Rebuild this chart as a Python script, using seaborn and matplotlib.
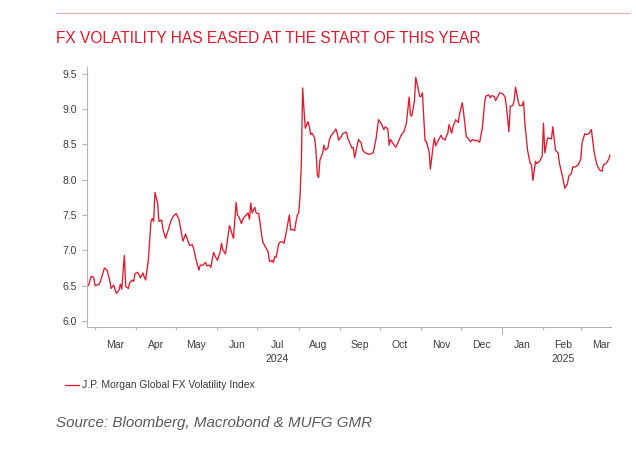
import numpy as np
import pandas as pd
import matplotlib
matplotlib.use('Agg')
import matplotlib.pyplot as plt
from matplotlib.lines import Line2D
from matplotlib.ticker import FormatStrFormatter
import seaborn as sns

# J.P. Morgan Global FX Volatility Index
dates = [
    '2024-02-25', '2024-02-27', '2024-02-29', '2024-03-01', '2024-03-04', '2024-03-05', '2024-03-08',
    '2024-03-10', '2024-03-12', '2024-03-13', '2024-03-15', '2024-03-17', '2024-03-19', '2024-03-20',
    '2024-03-21', '2024-03-23', '2024-03-24', '2024-03-26', '2024-03-27', '2024-03-29', '2024-03-30',
    '2024-03-31', '2024-04-02', '2024-04-03', '2024-04-04', '2024-04-06', '2024-04-07', '2024-04-08',
    '2024-04-10', '2024-04-12', '2024-04-13', '2024-04-14', '2024-04-15', '2024-04-17', '2024-04-18',
    '2024-04-20', '2024-04-21', '2024-04-23', '2024-04-25', '2024-04-27', '2024-04-29', '2024-05-01',
    '2024-05-03', '2024-05-04', '2024-05-06', '2024-05-08', '2024-05-11', '2024-05-13', '2024-05-14',
    '2024-05-16', '2024-05-18', '2024-05-19', '2024-05-21', '2024-05-23', '2024-05-24', '2024-05-26',
    '2024-05-27', '2024-05-29', '2024-05-31', '2024-06-01', '2024-06-03', '2024-06-04', '2024-06-05',
    '2024-06-07', '2024-06-09', '2024-06-10', '2024-06-11', '2024-06-13', '2024-06-15', '2024-06-16',
    '2024-06-17', '2024-06-19', '2024-06-20', '2024-06-22', '2024-06-24', '2024-06-25', '2024-06-26',
    '2024-06-27', '2024-06-29', '2024-06-30', '2024-07-02', '2024-07-04', '2024-07-05', '2024-07-07',
    '2024-07-09', '2024-07-10', '2024-07-11', '2024-07-12', '2024-07-13', '2024-07-14', '2024-07-15',
    '2024-07-17', '2024-07-18', '2024-07-20', '2024-07-21', '2024-07-23', '2024-07-25', '2024-07-26',
    '2024-07-27', '2024-07-29', '2024-07-30', '2024-07-31', '2024-08-01', '2024-08-02', '2024-08-03',
    '2024-08-04', '2024-08-05', '2024-08-06', '2024-08-08', '2024-08-09', '2024-08-10', '2024-08-11',
    '2024-08-13', '2024-08-14', '2024-08-15', '2024-08-16', '2024-08-17', '2024-08-19', '2024-08-20',
    '2024-08-21', '2024-08-23', '2024-08-24', '2024-08-25', '2024-08-26', '2024-08-28', '2024-08-29',
    '2024-08-30', '2024-08-31', '2024-09-02', '2024-09-03', '2024-09-05', '2024-09-06', '2024-09-07',
    '2024-09-08', '2024-09-10', '2024-09-11', '2024-09-12', '2024-09-15', '2024-09-17', '2024-09-18',
    '2024-09-20', '2024-09-23', '2024-09-26', '2024-09-28', '2024-09-30', '2024-10-02', '2024-10-04',
    '2024-10-05', '2024-10-07', '2024-10-08', '2024-10-09', '2024-10-11', '2024-10-13', '2024-10-15',
    '2024-10-17', '2024-10-19', '2024-10-21', '2024-10-23', '2024-10-24', '2024-10-25', '2024-10-27',
    '2024-10-28', '2024-10-30', '2024-10-31', '2024-11-01', '2024-11-02', '2024-11-04', '2024-11-05',
    '2024-11-07', '2024-11-08', '2024-11-10', '2024-11-11', '2024-11-12', '2024-11-14', '2024-11-16',
    '2024-11-17', '2024-11-19', '2024-11-20', '2024-11-21', '2024-11-22', '2024-11-24', '2024-11-25',
    '2024-11-27', '2024-11-29', '2024-11-30', '2024-12-02', '2024-12-03', '2024-12-05', '2024-12-07',
    '2024-12-08', '2024-12-10', '2024-12-12', '2024-12-13', '2024-12-15', '2024-12-17', '2024-12-19',
    '2024-12-20', '2024-12-22', '2024-12-23', '2024-12-24', '2024-12-26', '2024-12-27', '2024-12-29',
    '2024-12-30', '2025-01-01', '2025-01-03', '2025-01-04', '2025-01-06', '2025-01-07', '2025-01-09',
    '2025-01-10', '2025-01-11', '2025-01-13', '2025-01-14', '2025-01-16', '2025-01-17', '2025-01-18',
    '2025-01-20', '2025-01-22', '2025-01-23', '2025-01-24', '2025-01-26', '2025-01-27', '2025-01-29',
    '2025-01-31', '2025-02-01', '2025-02-02', '2025-02-04', '2025-02-07', '2025-02-08', '2025-02-10',
    '2025-02-12', '2025-02-13', '2025-02-15', '2025-02-17', '2025-02-19', '2025-02-20', '2025-02-22',
    '2025-02-23', '2025-02-25', '2025-02-27', '2025-03-01', '2025-03-02', '2025-03-04', '2025-03-05',
    '2025-03-07', '2025-03-09', '2025-03-11', '2025-03-13', '2025-03-15', '2025-03-17', '2025-03-18',
    '2025-03-20', '2025-03-22', '2025-03-23',
]
vol = [
    6.50, 6.63, 6.62, 6.50, 6.52, 6.56, 6.75,
    6.72, 6.58, 6.46, 6.51, 6.39, 6.44, 6.52,
    6.45, 6.93, 6.49, 6.46, 6.54, 6.58, 6.56,
    6.67, 6.69, 6.66, 6.61, 6.68, 6.62, 6.58,
    6.86, 7.41, 7.45, 7.41, 7.82, 7.67, 7.41,
    7.43, 7.30, 7.17, 7.29, 7.42, 7.49, 7.52,
    7.44, 7.34, 7.13, 7.23, 7.07, 7.08, 7.03,
    6.86, 6.72, 6.79, 6.79, 6.83, 6.78, 6.79,
    6.76, 6.97, 6.89, 6.86, 6.98, 7.10, 7.01,
    6.95, 7.22, 7.35, 7.29, 7.17, 7.68, 7.50,
    7.48, 7.38, 7.44, 7.49, 7.53, 7.44, 7.67,
    7.53, 7.61, 7.53, 7.52, 7.24, 7.12, 7.05,
    6.98, 6.85, 6.84, 6.86, 6.83, 6.91, 6.90,
    7.09, 7.12, 7.12, 7.10, 7.29, 7.50, 7.29,
    7.30, 7.28, 7.41, 7.50, 7.53, 7.76, 8.23,
    9.30, 8.99, 8.73, 8.82, 8.76, 8.64, 8.66,
    8.59, 8.42, 8.07, 8.03, 8.28, 8.38, 8.49,
    8.42, 8.45, 8.56, 8.61, 8.64, 8.69, 8.72,
    8.66, 8.56, 8.61, 8.65, 8.67, 8.67, 8.58,
    8.54, 8.45, 8.46, 8.31, 8.57, 8.52, 8.42,
    8.38, 8.36, 8.38, 8.56, 8.85, 8.80, 8.71,
    8.75, 8.72, 8.49, 8.57, 8.51, 8.46, 8.54,
    8.63, 8.68, 8.80, 9.17, 8.92, 8.90, 9.11,
    9.45, 9.27, 9.18, 9.18, 9.23, 8.55, 8.54,
    8.40, 8.15, 8.47, 8.59, 8.48, 8.56, 8.63,
    8.59, 8.56, 8.62, 8.65, 8.78, 8.66, 8.75,
    8.85, 8.81, 8.94, 9.09, 8.94, 8.61, 8.57,
    8.54, 8.57, 8.55, 8.56, 8.53, 8.73, 9.13,
    9.19, 9.20, 9.16, 9.19, 9.18, 9.12, 9.19,
    9.23, 9.22, 9.18, 9.06, 8.68, 9.04, 9.05,
    9.13, 9.31, 9.11, 9.05, 9.05, 9.11, 8.80,
    8.42, 8.23, 8.21, 7.99, 8.26, 8.23, 8.26,
    8.33, 8.80, 8.38, 8.59, 8.58, 8.75, 8.42,
    8.38, 8.23, 8.07, 7.88, 7.94, 8.05, 8.09,
    8.18, 8.18, 8.21, 8.29, 8.52, 8.65, 8.64,
    8.65, 8.71, 8.40, 8.22, 8.14, 8.12, 8.21,
    8.23, 8.29, 8.35,
]
series_name = 'J.P. Morgan Global FX Volatility Index'
month_labels = ['Mar', 'Apr', 'May', 'Jun', 'Jul\n2024', 'Aug', 'Sep', 'Oct', 'Nov', 'Dec',
                'Jan', 'Feb\n2025', 'Mar']
y_ticks = [6.0, 6.5, 7.0, 7.5, 8.0, 8.5, 9.0, 9.5]

RED = '#e2182b'
GREY = '#b5b5b5'
TXT = '#3c3c3c'

sns.set_theme(style='white')
plt.rcParams['font.family'] = ['Liberation Sans', 'DejaVu Sans']

df = pd.DataFrame({'date': pd.to_datetime(dates), 'vol': vol})
month_starts = pd.date_range('2024-03-01', '2025-03-01', freq='MS')
mid_month = month_starts + pd.Timedelta(days=15)

fig = plt.figure(figsize=(6.36, 4.49), dpi=100)
ax = fig.add_axes([0.1373, 0.2717, 0.8229, 0.5797])
sns.lineplot(data=df, x='date', y='vol', ax=ax, color=RED, linewidth=0.95, label=series_name)

ax.set_xlim(pd.Timestamp('2024-02-24 04:00'), pd.Timestamp('2025-03-23 12:00'))
ax.set_ylim(5.915, 9.60)
ax.set_xlabel('')
ax.set_ylabel('')

for s in ['top', 'right']:
    ax.spines[s].set_visible(False)
for s in ['left', 'bottom']:
    ax.spines[s].set_color(GREY)
    ax.spines[s].set_linewidth(0.8)

ax.set_yticks(y_ticks)
ax.yaxis.set_major_formatter(FormatStrFormatter('%.1f'))
ax.tick_params(axis='y', length=3.5, width=0.8, color=GREY, pad=4, labelsize=7.5, labelcolor=TXT, left=True)

ax.set_xticks(mid_month, labels=month_labels)
ax.set_xticks(month_starts, minor=True)
ax.tick_params(axis='x', which='major', length=0, pad=9, labelsize=7.5, labelcolor=TXT)
ax.tick_params(axis='x', which='minor', length=2.5, width=0.8, color=GREY, bottom=True)
for lab in ax.get_xticklabels():
    lab.set_linespacing(1.55)
    lab.set_verticalalignment('top')
# longer tick at the year change
for t, pos in zip(ax.xaxis.get_minor_ticks(), month_starts):
    if pos.month == 1:
        t.tick1line.set_markersize(5)

ax.legend(loc='center left', bbox_to_anchor=(0.1017, 0.1417), bbox_transform=fig.transFigure,
          frameon=False, fontsize=7.5, handlelength=1.4, handletextpad=0.3,
          borderpad=0, borderaxespad=0, labelcolor=TXT)

# header and source
fig.add_artist(Line2D([0.0879, 0.990], [0.970, 0.970], transform=fig.transFigure,
                      color='#f3aab1', linewidth=0.8))
fig.text(0.0879, 0.9147, 'FX VOLATILITY HAS EASED AT THE START OF THIS YEAR',
         fontsize=11.2, color=RED, va='center')
fig.text(0.0887, 0.0588, 'Source: Bloomberg, Macrobond & MUFG GMR', fontsize=10.9,
         style='italic', color='#5a5a5a', va='center')

fig.savefig('out.png', dpi=100)
